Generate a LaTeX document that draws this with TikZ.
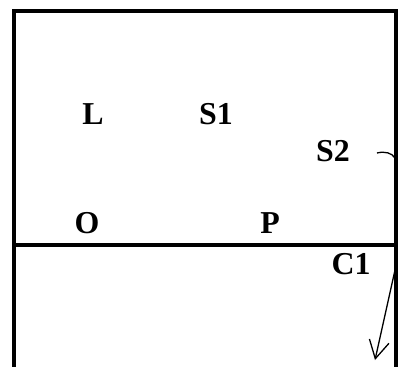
\documentclass[tikz,border=0pt]{standalone}
\usepackage{fontspec}
\setmainfont{Liberation Serif}
\usetikzlibrary{arrows.meta}
\begin{document}
\begin{tikzpicture}[x=1bp,y=-1bp,
  lbl/.style={font=\fontsize{32}{36}\selectfont\bfseries, inner sep=0pt, anchor=center},
  wall/.style={line width=3.5bp, line cap=rect},
  thin/.style={line width=1.3bp}]
  \useasboundingbox (0,0) rectangle (399,367);
  % outer frame, open at the bottom, and the dividing floor line
  \draw[wall] (14,367) -- (14,11) -- (396,11) -- (396,367);
  \draw[wall] (14,245) -- (396,245);
  % labels
  \node[lbl] (L)  at (93,114)  {L};
  \node[lbl] (S1) at (216,114) {S1};
  \node[lbl] (S2) at (333,151) {S2};
  \node[lbl] (O)  at (87,223)  {O};
  \node[lbl] (P)  at (270,223) {P};
  \node[lbl] (C1) at (351,264) {C1};
  % hook from S2 to the right wall
  \coordinate (s2a) at (377,153);
  \coordinate (s2b) at (395,158);
  \draw[thin] (s2a) .. controls (385,151) and (392,153) .. (s2b);
  % arrow from the right wall down into the lower region
  \coordinate (c1a) at (395,270);
  \coordinate (c1b) at (375,360);
  \draw[thin, -{Straight Barb[length=18bp,width=20bp]}] (c1a) -- (c1b);
\end{tikzpicture}
\end{document}
